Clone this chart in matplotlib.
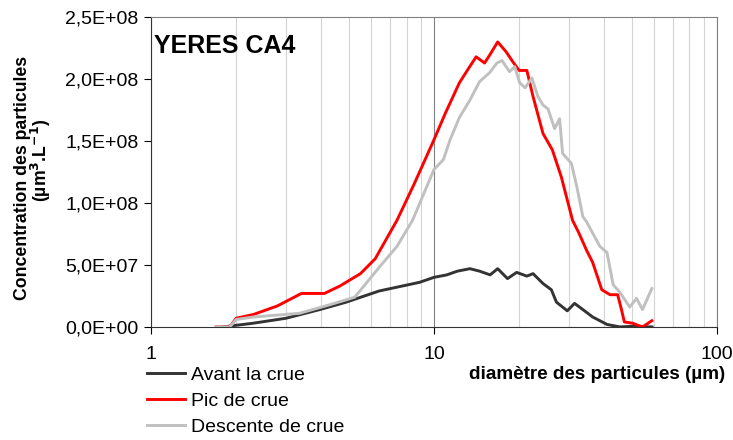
import matplotlib.pyplot as plt
from matplotlib.ticker import FuncFormatter, LogLocator, NullFormatter

plt.rcParams['font.family'] = ['Liberation Sans', 'DejaVu Sans']

# granulométrie : diamètre (µm) et concentration (µm3/L)
d_avant = [1.8, 1.95, 2.3, 3.0, 3.95, 4.9, 6.4, 8.9, 10.0, 11.1, 12.1, 13.4, 14.5, 15.8,
           16.8, 18.2, 19.6, 21.3, 22.4, 24.3, 26.0, 27.1, 29.6, 31.4, 33.6, 36.4, 40.9,
           45.4, 50.0, 59.0]
c_avant = [0, 0.1e7, 0.3e7, 0.7e7, 1.4e7, 2.0e7, 2.9e7, 3.6e7, 4.0e7, 4.2e7, 4.5e7, 4.7e7,
           4.5e7, 4.2e7, 4.7e7, 3.9e7, 4.4e7, 4.1e7, 4.3e7, 3.5e7, 3.0e7, 2.0e7, 1.3e7,
           1.9e7, 1.4e7, 0.8e7, 0.2e7, 0, 0.05e7, 0]

d_pic = [1.7, 1.9, 2.0, 2.3, 2.8, 3.4, 4.1, 4.65, 5.5, 6.2, 7.4, 8.5, 10.0, 11.0, 12.3,
         13.2, 14.1, 15.1, 15.8, 16.8, 18.0, 19.0, 20.0, 21.3, 22.4, 24.3, 26.2, 28.2,
         30.9, 32.5, 34.6, 36.4, 39.2, 41.9, 44.6, 46.0, 47.1, 50.3, 54.6, 58.9]
c_pic = [0, 0, 0.7e7, 1.0e7, 1.7e7, 2.7e7, 2.7e7, 3.3e7, 4.3e7, 5.5e7, 8.6e7, 11.5e7,
         15.1e7, 17.3e7, 19.7e7, 20.8e7, 21.8e7, 21.3e7, 22.0e7, 23.0e7, 22.2e7, 21.4e7,
         20.7e7, 20.7e7, 18.6e7, 15.6e7, 14.3e7, 12.1e7, 8.6e7, 7.6e7, 6.2e7, 5.2e7,
         3.0e7, 2.6e7, 2.6e7, 1.4e7, 0.4e7, 0.3e7, 0, 0.5e7]

d_desc = [1.7, 1.9, 2.0, 2.3, 3.35, 4.3, 5.25, 6.4, 7.4, 8.4, 10.0, 10.8, 11.4, 12.3,
          13.4, 14.5, 15.7, 16.7, 17.4, 18.5, 19.3, 20.1, 21.0, 22.2, 23.3, 24.3, 25.3,
          26.7, 27.8, 28.5, 30.6, 32.0, 33.6, 34.6, 38.6, 40.9, 43.0, 45.4, 49.2, 52.0,
          54.6, 58.9]
c_desc = [0, 0, 0.6e7, 0.8e7, 1.1e7, 1.8e7, 2.4e7, 4.8e7, 6.5e7, 8.6e7, 12.7e7, 13.5e7,
          15.1e7, 16.9e7, 18.3e7, 19.8e7, 20.5e7, 21.3e7, 21.5e7, 20.6e7, 21.0e7, 19.7e7,
          19.3e7, 20.1e7, 18.6e7, 17.9e7, 17.6e7, 16.0e7, 16.8e7, 14.0e7, 13.2e7, 11.3e7,
          8.9e7, 8.5e7, 6.5e7, 6.0e7, 3.4e7, 2.8e7, 1.6e7, 2.3e7, 1.4e7, 3.1e7]

fig = plt.figure(figsize=(7.33, 4.40), dpi=100)
ax = fig.add_axes([0.206, 0.257, 0.772, 0.704])

ax.plot(d_avant, c_avant, color='#333333', lw=2.1, label='Avant la crue')
ax.plot(d_pic, c_pic, color='#ff0000', lw=2.1, label='Pic de crue')
ax.plot(d_desc, c_desc, color='#c0c0c0', lw=2.1, label='Descente de crue')

ax.set_xscale('log')
ax.set_xlim(1, 100)
ax.set_ylim(0, 2.5e8)

# quadrillage vertical seulement
ax.xaxis.set_minor_locator(LogLocator(base=10, subs=range(2, 10)))
ax.xaxis.set_minor_formatter(NullFormatter())
ax.grid(True, axis='x', which='major', color='#808080', lw=0.8)
ax.grid(True, axis='x', which='minor', color='#d4d4d4', lw=0.8)
ax.set_axisbelow(True)

ax.set_yticks([0, 0.5e8, 1.0e8, 1.5e8, 2.0e8, 2.5e8])
ax.yaxis.set_major_formatter(FuncFormatter(lambda v, p: ('%.1E' % v).replace('.', ',')))
ax.xaxis.set_major_formatter(FuncFormatter(lambda v, p: '%g' % v))
ax.tick_params(axis='y', labelsize=14, length=5, direction='out', pad=4)
ax.tick_params(axis='x', which='major', labelsize=14, length=5, pad=9)
ax.tick_params(axis='x', which='minor', length=0)

for s in ['top', 'right']:
    ax.spines[s].set_color('#808080')
for s in ['left', 'bottom']:
    ax.spines[s].set_color('#333333')

ax.text(0.006, 0.945, 'YERES CA4', transform=ax.transAxes, fontsize=18,
        fontweight='bold', va='top', ha='left')

fig.text(0.031, 0.595, 'Concentration des particules', rotation=90, fontsize=12.7,
         fontweight='bold', ha='center', va='center')
fig.text(0.056, 0.635, '(µm$^\\mathbf{3}$.L$^\\mathbf{-1}$)', rotation=90, fontsize=12.7,
         fontweight='bold', ha='center', va='center')

fig.text(0.989, 0.148, 'diamètre des particules (µm)', fontsize=13.6, fontweight='bold',
         ha='right', va='center')

fig.legend(loc='upper left', bbox_to_anchor=(0.2, 0.168), frameon=False, fontsize=14,
           handlelength=1.95, handletextpad=0.35, labelspacing=0.44, borderaxespad=0,
           borderpad=0)

fig.savefig('out.png', dpi=100)
